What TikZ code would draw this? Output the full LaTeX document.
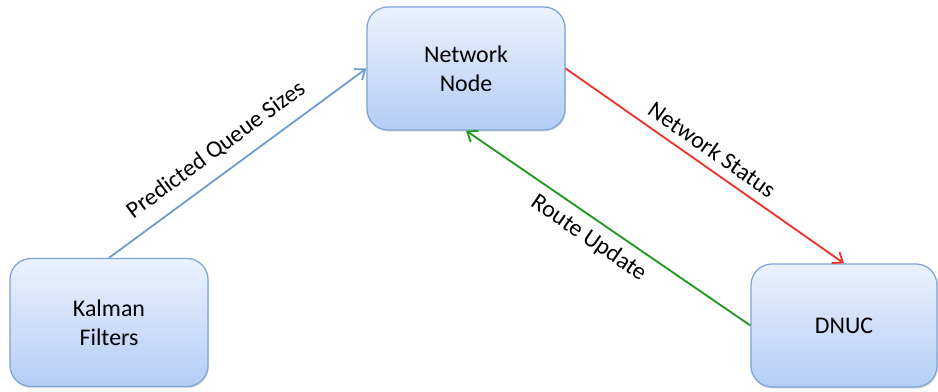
\documentclass[tikz,border=0pt]{standalone}
\usepackage{fontspec}
\setmainfont{Carlito}
\usetikzlibrary{arrows.meta,shadows}
\definecolor{boxline}{HTML}{7DA4D6}
\definecolor{boxtop}{HTML}{EBF2FD}
\definecolor{boxbot}{HTML}{B3CDF6}
\definecolor{bluearr}{HTML}{6F9DCF}
\definecolor{redarr}{HTML}{F0312A}
\definecolor{greenarr}{HTML}{1F981F}
\tikzset{
    every node/.style={font=\fontsize{17}{20.5}\selectfont},
    box/.style={rectangle, rounded corners=15pt, draw=boxline, line width=0.9pt,
        top color=boxtop, bottom color=boxbot, align=center,
        drop shadow={shadow xshift=0.6pt, shadow yshift=-1.2pt, opacity=0.25},
        minimum width=4.95cm},
    link/.style={line width=1.3pt, -{Straight Barb[length=2.2mm, width=3.4mm, line width=1.3pt]}},
    lbl/.style={sloped, inner sep=2pt, text=black}
}

\begin{document}
\begin{tikzpicture}[x=0.025cm, y=-0.025cm]
  \useasboundingbox (0,0) rectangle (938,392);
  \node (netnode) [box, minimum height=3.075cm] at (466,68.5) {Network\\Node};
  \node (kalman) [box, minimum height=3.2cm] at (109,322.5) {Kalman\\Filters};
  \node (dnuc) [box, minimum width=4.65cm, minimum height=3.075cm] at (844,325.5) {DNUC};

  \draw (kalman.north) edge [link, bluearr] node [lbl, pos=0.47, above=7pt] {Predicted Queue Sizes} (netnode.west);
  \draw (netnode.east) edge [link, redarr] node [lbl, pos=0.49, above=4pt] {Network Status} (dnuc.north);
  \draw (dnuc.west) edge [link, greenarr] node [lbl, pos=0.53, below=4pt] {Route Update} (netnode.south);
\end{tikzpicture}
\end{document}
